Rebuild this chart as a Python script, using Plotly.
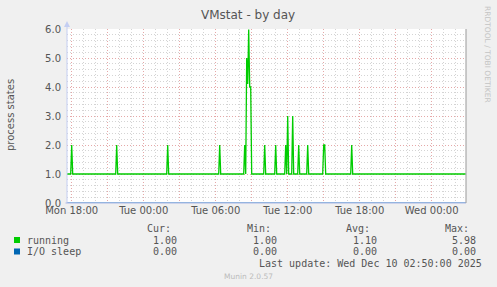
import plotly.graph_objects as go

# ---------------- data ----------------
running_times = [
    "2025-12-08 17:35", "2025-12-08 17:55", "2025-12-08 18:00", "2025-12-08 18:05",
    "2025-12-08 21:40", "2025-12-08 21:45", "2025-12-08 21:50",
    "2025-12-09 01:55", "2025-12-09 02:00", "2025-12-09 02:05",
    "2025-12-09 06:15", "2025-12-09 06:20", "2025-12-09 06:25",
    "2025-12-09 08:20", "2025-12-09 08:25", "2025-12-09 08:30", "2025-12-09 08:35",
    "2025-12-09 08:40", "2025-12-09 08:45", "2025-12-09 08:50", "2025-12-09 08:55",
    "2025-12-09 09:00",
    "2025-12-09 10:00", "2025-12-09 10:05", "2025-12-09 10:10",
    "2025-12-09 10:55", "2025-12-09 11:00", "2025-12-09 11:05",
    "2025-12-09 11:45", "2025-12-09 11:50", "2025-12-09 11:55", "2025-12-09 12:00",
    "2025-12-09 12:05",
    "2025-12-09 12:20", "2025-12-09 12:25", "2025-12-09 12:30",
    "2025-12-09 12:50", "2025-12-09 12:55", "2025-12-09 13:00",
    "2025-12-09 13:35", "2025-12-09 13:40", "2025-12-09 13:45",
    "2025-12-09 14:55", "2025-12-09 15:00", "2025-12-09 15:05", "2025-12-09 15:10",
    "2025-12-09 17:15", "2025-12-09 17:20", "2025-12-09 17:25",
    "2025-12-10 02:50",
]
running_values = [
    1, 1, 2, 1,
    1, 2, 1,
    1, 2, 1,
    1, 2, 1,
    1, 2, 1, 5.0,
    4.1, 5.98, 4.0, 4.0,
    1,
    1, 2, 1,
    1, 2, 1,
    1, 2, 1, 3,
    1,
    1, 3, 1,
    1, 2, 1,
    1, 2, 1,
    1, 2, 2, 1,
    1, 2, 1,
    1,
]
iosleep_times = ["2025-12-08 17:35", "2025-12-10 02:50"]
iosleep_values = [0, 0]

x_tickvals = ["2025-12-08 18:00", "2025-12-08 21:00", "2025-12-09 00:00", "2025-12-09 03:00",
              "2025-12-09 06:00", "2025-12-09 09:00", "2025-12-09 12:00", "2025-12-09 15:00",
              "2025-12-09 18:00", "2025-12-09 21:00", "2025-12-10 00:00"]
x_ticktext = ["Mon 18:00", "", "Tue 00:00", "", "Tue 06:00", "", "Tue 12:00", "",
              "Tue 18:00", "", "Wed 00:00"]
y_tickvals = [0, 1, 2, 3, 4, 5, 6]
y_ticktext = ["0.0", "1.0", "2.0", "3.0", "4.0", "5.0", "6.0"]

legend_names = ["running", "I/O sleep"]
legend_colors = ["#00cc00", "#0066b3"]
stat_headers = ["Cur:", "Min:", "Avg:", "Max:"]
stat_rows = [["1.00", "1.00", "1.10", "5.98"],
             ["0.00", "0.00", "0.00", "0.00"]]
last_update = "Last update: Wed Dec 10 02:50:00 2025"
version_text = "Munin 2.0.57"

# ---------------- layout geometry ----------------
W, H = 497, 287
PL, PR, PT, PB = 67, 466, 29, 203


def px(x):
    return (x - PL) / (PR - PL)


def py(y):
    return (PB - y) / (PB - PT)


fig = go.Figure()
fig.add_trace(go.Scatter(x=iosleep_times, y=iosleep_values, mode="lines",
                         line=dict(color=legend_colors[1], width=1.2), hoverinfo="skip"))
fig.add_trace(go.Scatter(x=running_times, y=running_values, mode="lines",
                         line=dict(color=legend_colors[0], width=1.3), hoverinfo="skip"))

tick_font = dict(family="DejaVu Sans", size=10, color="#555555")
mono = "DejaVu Sans Mono"

fig.update_layout(
    width=W, height=H,
    margin=dict(l=PL, r=W - PR, t=PT, b=H - PB, pad=0),
    paper_bgcolor="#f0f0f0", plot_bgcolor="#ffffff",
    showlegend=False,
    xaxis=dict(
        type="date",
        range=["2025-12-08 17:36:30", "2025-12-10 02:51:30"],
        tickmode="array", tickvals=x_tickvals, ticktext=x_ticktext,
        tickfont=tick_font, ticks="", showline=False, zeroline=False,
        showgrid=True, gridcolor="#e5a8a8", gridwidth=1, griddash="1px,2px",
        minor=dict(dtick=3600000, tick0="2025-12-08 18:00", showgrid=True,
                   gridcolor="#d4d4d4", gridwidth=1, griddash="1px,2px"),
    ),
    yaxis=dict(
        range=[0, 6], tickmode="array", tickvals=y_tickvals, ticktext=y_ticktext,
        tickfont=tick_font, ticks="", showline=False, zeroline=False,
        ticklabelstandoff=5,
        showgrid=True, gridcolor="#e5a8a8", gridwidth=1, griddash="1px,2px",
        minor=dict(dtick=0.2, tick0=0, showgrid=True,
                   gridcolor="#d4d4d4", gridwidth=1, griddash="1px,2px"),
    ),
)

shapes = []
# axes lines
shapes.append(dict(type="line", xref="paper", yref="paper", x0=0, x1=0, y0=0, y1=py(25),
                   line=dict(color="#c4cef2", width=1), layer="above"))
shapes.append(dict(type="path", xref="paper", yref="paper",
                   path=f"M {px(64)},{py(27)} L {px(70)},{py(27)} L {px(67)},{py(21)} Z",
                   fillcolor="#c4cef2", line=dict(width=0), layer="above"))
shapes.append(dict(type="line", xref="paper", yref="paper", x0=px(65.5), x1=1, y0=0, y1=0,
                   line=dict(color="#a9b6e6", width=1.2), layer="above"))
shapes.append(dict(type="line", xref="paper", yref="paper", x0=1, x1=1, y0=0, y1=1,
                   line=dict(color="#999999", width=1), layer="above"))
# legend squares
for i, c in enumerate(legend_colors):
    yc = 240 + i * 11.5
    shapes.append(dict(type="rect", xref="paper", yref="paper",
                       x0=px(14), x1=px(20), y0=py(yc + 3), y1=py(yc - 3),
                       fillcolor=c, line=dict(width=0)))
fig.update_layout(shapes=shapes)

ann = []
ann.append(dict(text="VMstat - by day", x=px(248), y=py(15), xref="paper", yref="paper",
                showarrow=False, xanchor="center", yanchor="middle",
                font=dict(family="DejaVu Sans", size=12, color="#555555")))
ann.append(dict(text="process states", x=px(11), y=py(115), xref="paper", yref="paper",
                showarrow=False, xanchor="center", yanchor="middle", textangle=-90,
                font=dict(family="DejaVu Sans", size=10, color="#555555")))
ann.append(dict(text="RRDTOOL / TOBI OETIKER", x=px(488), y=py(54), xref="paper", yref="paper",
                showarrow=False, xanchor="center", yanchor="middle", textangle=90,
                font=dict(family="DejaVu Sans", size=7.5, color="#c4c4c4")))
header_right = [172, 272, 371, 470]
value_right = [178, 278, 378, 477]
for h, xr in zip(stat_headers, header_right):
    ann.append(dict(text=h, x=px(xr), y=py(228.5), xref="paper", yref="paper",
                    showarrow=False, xanchor="right", yanchor="middle",
                    font=dict(family=mono, size=10, color="#555555")))
for i, (name, row) in enumerate(zip(legend_names, stat_rows)):
    yc = 240 + i * 11.5
    ann.append(dict(text=name, x=px(26), y=py(yc), xref="paper", yref="paper",
                    showarrow=False, xanchor="left", yanchor="middle",
                    font=dict(family=mono, size=10, color="#555555")))
    for v, xr in zip(row, value_right):
        ann.append(dict(text=v, x=px(xr), y=py(yc), xref="paper", yref="paper",
                        showarrow=False, xanchor="right", yanchor="middle",
                        font=dict(family=mono, size=10, color="#555555")))
ann.append(dict(text=last_update, x=px(483), y=py(263.5), xref="paper", yref="paper",
                showarrow=False, xanchor="right", yanchor="middle",
                font=dict(family=mono, size=10, color="#555555")))
ann.append(dict(text=version_text, x=px(248), y=py(276.5), xref="paper", yref="paper",
                showarrow=False, xanchor="center", yanchor="middle",
                font=dict(family="DejaVu Sans", size=7.5, color="#bbbbbb")))
for a in ann:
    a["borderpad"] = 0
fig.update_layout(annotations=ann)

fig.write_html("out.html")
